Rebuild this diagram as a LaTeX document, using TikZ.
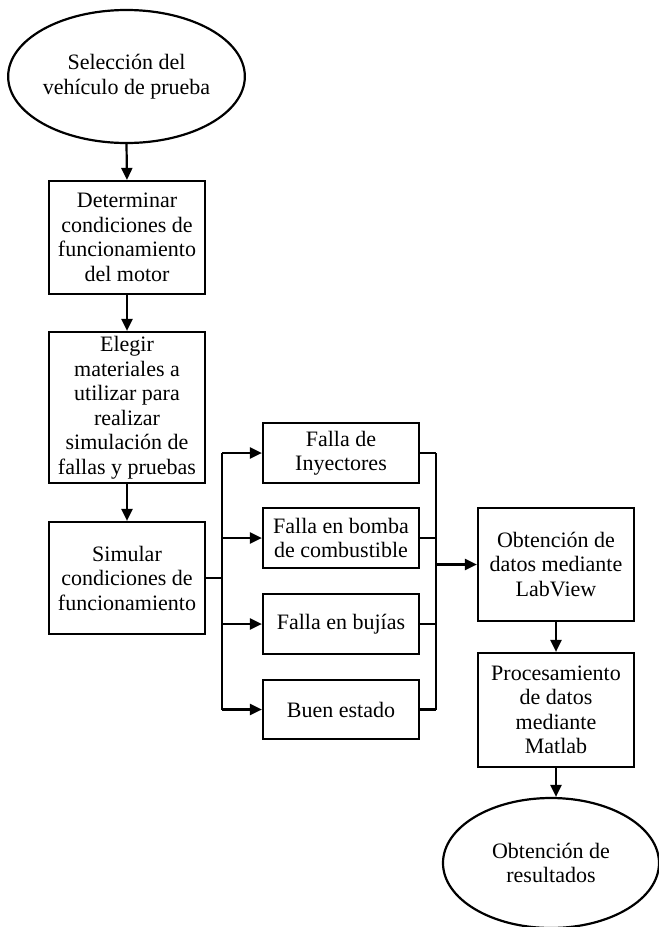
\documentclass[tikz,border=0pt]{standalone}
\usepackage{fontspec}
\setmainfont{Liberation Serif}
\usetikzlibrary{shapes.geometric,arrows.meta,calc}
\tikzset{
  base/.style={draw, line width=2.2pt, align=center, inner sep=0pt,
    font=\fontsize{22}{24.5}\selectfont},
  boxnode/.style={base, rectangle, minimum width=156pt},
  ovalnode/.style={base, ellipse},
  arr/.style={line width=2.2pt, -{Triangle[length=12pt,width=11pt]}},
  ln/.style={line width=2.2pt}
}
\begin{document}
\begin{tikzpicture}[x=1pt,y=1pt]
\clip (0,0) rectangle (659,-927);
\fill[white] (0,0) rectangle (659,-927);
\node[ovalnode, minimum width=227pt, minimum height=133pt] (e1) at (126.5,-76.5) {Selección del\\vehículo de prueba};
\node[boxnode, minimum height=113pt] (b2) at (127,-237.5) {Determinar\\condiciones de\\funcionamiento\\del motor};
\node[boxnode, minimum height=151pt] (b3) at (127,-407.5) {Elegir\\materiales a\\utilizar para\\realizar\\simulación de\\fallas y pruebas};
\node[boxnode, minimum height=112pt] (b4) at (127,-578) {Simular\\condiciones de\\funcionamiento};
\node[boxnode, minimum height=60pt] (f1) at (341,-453) {Falla de\\Inyectores};
\node[boxnode, minimum height=60pt] (f2) at (341,-538) {Falla en bomba\\de combustible};
\node[boxnode, minimum height=60pt] (f3) at (341,-624) {Falla en bujías};
\node[boxnode, minimum height=59pt] (f4) at (341,-709.5) {Buen estado};
\node[boxnode, minimum height=113pt] (lv) at (556,-564.5) {Obtención de\\datos mediante\\LabView};
\node[boxnode, minimum height=114pt] (pm) at (556,-710) {Procesamiento\\de datos\\mediante\\Matlab};
\node[ovalnode, minimum width=216pt, minimum height=130pt] (e2) at (551,-863) {Obtención de\\resultados};
\coordinate (bl) at (222,0);
\coordinate (br) at (436,0);
\draw[arr] (e1.south) -- (b2.north);
\draw[arr] (b2.south) -- (b3.north);
\draw[arr] (b3.south) -- (b4.north);
\draw[ln] (b4.east) -- (b4.east -| bl);
\draw[ln] (bl |- f1.west) -- (bl |- f4.west);
\foreach \f in {f1,f2,f3,f4} {
  \draw[arr] (bl |- \f.west) -- (\f.west);
  \draw[ln] (\f.east) -- (\f.east -| br);
}
\draw[ln] (br |- f1.east) -- (br |- f4.east);
\draw[arr] (br |- lv.west) -- (lv.west);
\draw[arr] (lv.south) -- (pm.north);
\draw[arr] (pm.south) -- (pm.south |- e2.north);
\end{tikzpicture}
\end{document}
